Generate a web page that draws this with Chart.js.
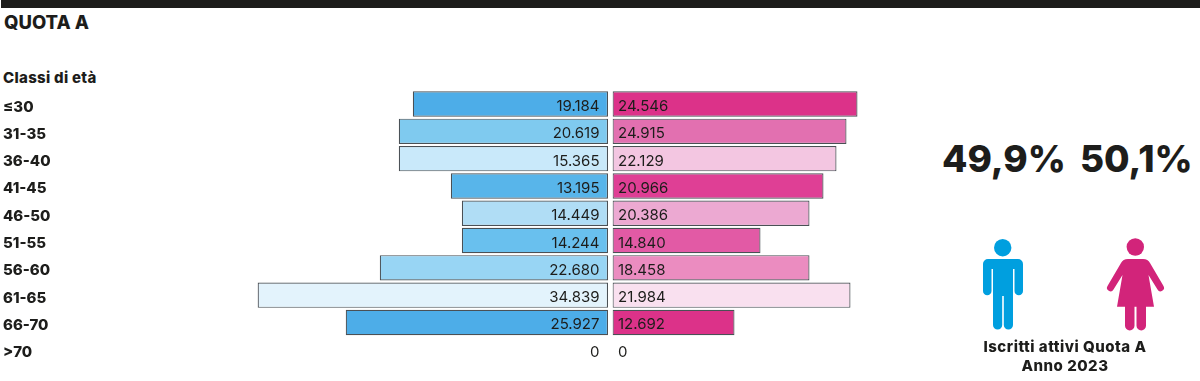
<!DOCTYPE html>
<html lang="it">
<head>
<meta charset="utf-8">
<title>Quota A</title>
<script src="https://cdn.jsdelivr.net/npm/chart.js@4"></script>
<style>
    html, body { margin: 0; padding: 0; background: #fff; }
    body { position: relative; width: 1200px; height: 381px; overflow: hidden; font-family: Inter, sans-serif; color: #1d1d1b; }
    #topRule { position: absolute; left: 1px; top: 0; width: 1199px; height: 8px; background: #1d1d1b; }
    canvas { position: absolute; top: 0; }
    #maleChart { left: 0; }
    #femaleChart { left: 611.5px; }
    .txt { position: absolute; white-space: nowrap; font-weight: 800; line-height: 1; }
    #title { left: 4px; top: 13px; font-size: 18.5px; }
    #axisTitle { left: 3px; top: 70px; font-size: 15px; letter-spacing: 0.3px; }
    .pct { top: 140px; font-size: 37px; font-weight: 800; }
    #pctMale { left: 942px; }
    #pctFemale { left: 1080px; }
    #caption { left: 965px; width: 200px; top: 337px; font-size: 15px; line-height: 19px; letter-spacing: 0.5px; text-align: center; }
    #icons { position: absolute; left: 0; top: 0; }
</style>
</head>
<body>
<div id="topRule"></div>
<div class="txt" id="title">QUOTA A</div>
<div class="txt" id="axisTitle">Classi di età</div>
<canvas id="maleChart" width="608" height="381"></canvas>
<canvas id="femaleChart" width="301" height="381"></canvas>
<div class="txt pct" id="pctMale">49,9%</div>
<div class="txt pct" id="pctFemale">50,1%</div>
<svg id="icons" width="1200" height="381">
    <g fill="#009fdf">
        <circle cx="1002.7" cy="247.7" r="8.7"/>
        <path d="M988 259h30a5 5 0 0 1 5 5v27a4.250 4.250 0 0 1-8.500 0v-22h-1.500v56a4.600 4.600 0 0 1-9.200 0v-29h-1.600v29a4.600 4.600 0 0 1-9.200 0v-56h-1.500v22a4.250 4.250 0 0 1-8.500 0v-27a5 5 0 0 1 5-5z"/>
    </g>
    <g fill="#d2247a">
        <circle cx="1135.3" cy="247" r="8.700"/>
        <path d="M1128 259h15c3.500 0 5.500 1.500 7 4l13.500 23a3.300 3.300 0 0 1-6 3.500l-9-14.500 5.500 31.700h-8v19a4.600 4.600 0 0 1-9.500 0v-19h-2v19a4.600 4.600 0 0 1-9.500 0v-19h-8l5.500-31.700-9 14.500a3.300 3.300 0 0 1-6-3.500l13.500-23c1.500-2.500 3.500-4 7-4z"/>
    </g>
</svg>
<div class="txt" id="caption">Iscritti attivi Quota A<br>Anno 2023</div>

<script>
const ageClasses = ['≤30', '31-35', '36-40', '41-45', '46-50', '51-55', '56-60', '61-65', '66-70', '>70'];

// Printed numbers
const maleLabels = ['19.184', '20.619', '15.365', '13.195', '14.449', '14.244', '22.680', '34.839', '25.927', '0'];
const femaleLabels = ['24.546', '24.915', '22.129', '20.966', '20.386', '14.840', '18.458', '21.984', '12.692', '0'];

// Bar lengths in thousands. Some rows in the original
// do not match their printed number (e.g. 36-40 male), so they are kept apart.
const maleBars = [19.5, 20.9, 20.9, 15.7, 14.6, 14.6, 22.8, 35.0, 26.2, 0];
const femaleBars = [24.5, 23.4, 22.4, 21.1, 19.7, 14.8, 19.7, 23.8, 12.2, 0];

const maleColors = ['#4dade8', '#7fcaef', '#c9e9fa', '#58b5ea', '#b0ddf5', '#69c0ee', '#98d5f4', '#e3f3fc', '#4dade8', '#ffffff'];
const femaleColors = ['#dc3289', '#e270b0', '#f3c6e1', '#df3f95', '#eca9d2', '#e25aa5', '#eb8cc0', '#f9e0ef', '#dc3289', '#ffffff'];

// Draws the printed numbers inside the bars
const barLabelPlugin = {
    id: 'barLabels',
    afterDatasetsDraw(chart, args, opts) {
        const ctx = chart.ctx;
        const zero = chart.scales.x.getPixelForValue(0);
        ctx.save();
        ctx.font = '15px Inter, sans-serif';
        ctx.fillStyle = '#1d1d1b';
        ctx.textBaseline = 'middle';
        ctx.textAlign = opts.side === 'left' ? 'right' : 'left';
        opts.labels.forEach((text, i) => {
            const y = chart.scales.y.getPixelForValue(i) + 2.5;
            ctx.fillText(text, zero + opts.offset, y);
        });
        ctx.restore();
    }
};

function makeChart(id, bars, colors, labels, isLeft) {
    return new Chart(document.getElementById(id), {
        type: 'bar',
        data: {
            labels: ageClasses,
            datasets: [{
                data: bars,
                backgroundColor: colors,
                borderColor: '#4a5055',
                borderWidth: 1.2,
                borderSkipped: false,
                categoryPercentage: 1,
                barPercentage: 0.93
            }]
        },
        plugins: [barLabelPlugin],
        options: {
            indexAxis: 'y',
            responsive: false,
            animation: false,
            layout: {
                padding: isLeft
                    ? { left: 3, right: 0, top: 90.4, bottom: 17.6 }
                    : { left: 0.5, right: 0.5, top: 90.4, bottom: 17.6 }
            },
            plugins: {
                legend: { display: false },
                tooltip: { enabled: false },
                barLabels: { labels: labels, side: isLeft ? 'left' : 'right', offset: isLeft ? -8.5 : 5.5 }
            },
            scales: {
                x: {
                    display: false,
                    reverse: isLeft,
                    min: 0,
                    max: isLeft ? 40 : 30
                },
                y: {
                    display: isLeft,
                    grid: { display: false },
                    border: { display: false },
                    afterFit(scale) { if (isLeft) scale.width = 204.6; },
                    ticks: {
                        crossAlign: 'far',
                        autoSkip: false,
                        padding: 0,
                        labelOffset: 3,
                        color: '#1d1d1b',
                        font: { family: 'Inter, sans-serif', size: 15, weight: '800' }
                    }
                }
            }
        }
    });
}

makeChart('maleChart', maleBars, maleColors, maleLabels, true);
makeChart('femaleChart', femaleBars, femaleColors, femaleLabels, false);
</script>
</body>
</html>
